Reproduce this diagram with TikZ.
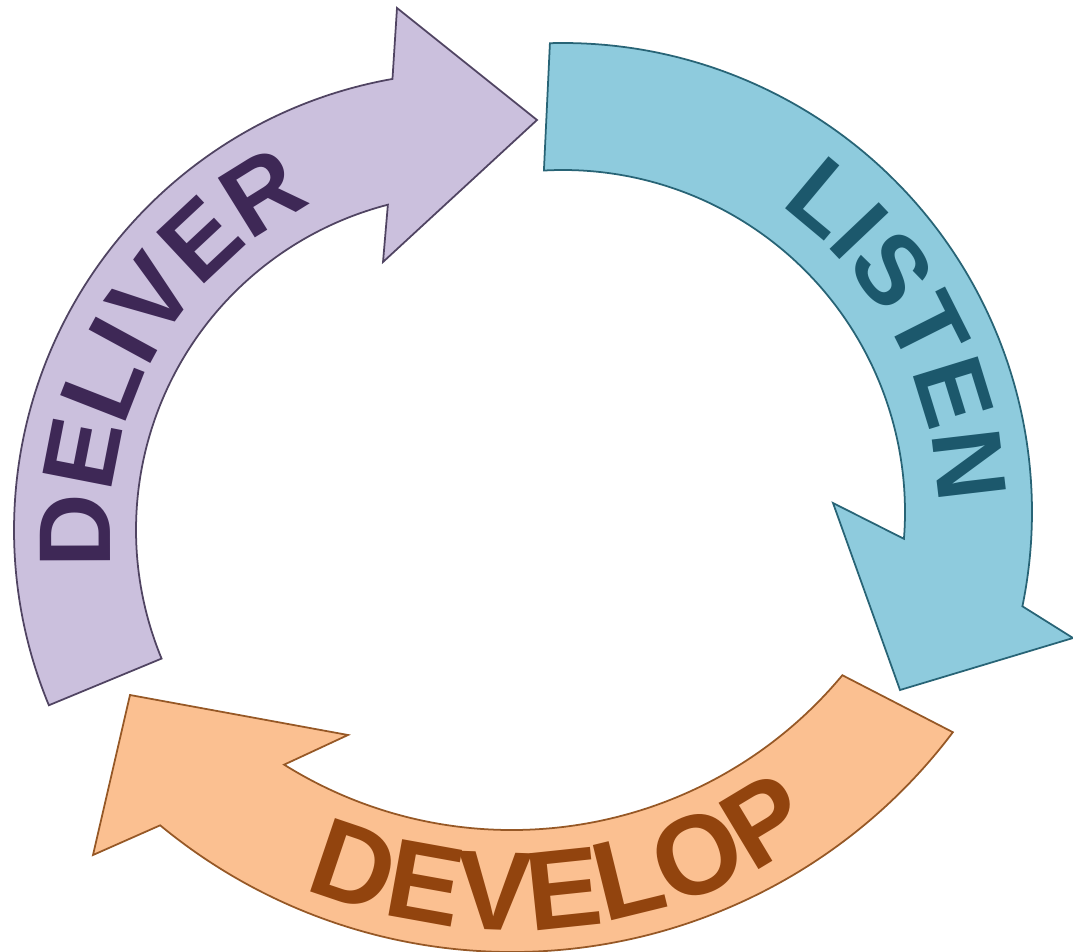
\documentclass[tikz,border=0pt]{standalone}
\usepackage{fontspec}
\setmainfont{Liberation Sans}
\usetikzlibrary{decorations.text}

\definecolor{deliverfill}{RGB}{203,192,221}
\definecolor{deliverline}{RGB}{80,68,98}
\definecolor{delivertext}{RGB}{62,40,86}
\definecolor{listenfill}{RGB}{142,203,221}
\definecolor{listenline}{RGB}{40,100,118}
\definecolor{listentext}{RGB}{28,88,108}
\definecolor{developfill}{RGB}{251,192,145}
\definecolor{developline}{RGB}{150,88,38}
\definecolor{developtext}{RGB}{146,68,14}

\tikzset{
    band/.style={line width=0.5pt, line join=miter},
    word/.style={decorate, decoration={text along path, text align=center, text={#1}}}
}

\begin{document}
\begin{tikzpicture}[x=0.01cm, y=-0.01cm]
            \fill[white] (0, 0) rectangle (1073, 952);
            \useasboundingbox (0, 0) rectangle (1073, 952);

            % centres of the three bent arrows
            \coordinate (dc) at (472, 530);
            \coordinate (lc) at (563, 512);
            \coordinate (vc) at (512, 400);

            % deliver
            \draw[band, fill=deliverfill, draw=deliverline]
                ([shift={(dc)}]157.5:458) arc[start angle=157.5, end angle=260, radius=458]
                -- (397, 8) -- (537, 120) -- (383, 262)
                -- ([shift={(dc)}]255.5:336) arc[start angle=255.5, end angle=157.5, radius=336]
                -- cycle;

            % listen
            \draw[band, fill=listenfill, draw=listenline]
                ([shift={(lc)}]-91.6:469) arc[start angle=-91.6, end angle=11.6, radius=469]
                -- (1073, 638) -- (900, 690) -- (833, 503)
                -- ([shift={(lc)}]4.5:342) arc[start angle=4.5, end angle=-93.2, radius=342]
                -- cycle;

            % develop
            \draw[band, fill=developfill, draw=developline]
                ([shift={(vc)}]37:552) arc[start angle=37, end angle=129.6, radius=552]
                -- (93, 855) -- (130, 695) -- (348, 735)
                -- ([shift={(vc)}]122:430) arc[start angle=122, end angle=39.8, radius=430]
                -- cycle;

            % words on the arrows
            \path[word={|\bfseries\fontsize{29}{29}\selectfont\color{delivertext}|DELIVER}]
                ([shift={(dc)}]159:362) arc[start angle=159, end angle=259, radius=362];
            \path[word={|\bfseries\fontsize{28}{28}\selectfont\color{listentext}|LISTEN}]
                ([shift={(lc)}]-75:375) arc[start angle=-75, end angle=19, radius=375];
            \path[word={|\bfseries\fontsize{32}{32}\selectfont\color{developtext}|DEVELOP}]
                ([shift={(vc)}]134:530) arc[start angle=134, end angle=34, radius=530];
        \end{tikzpicture}
\end{document}
